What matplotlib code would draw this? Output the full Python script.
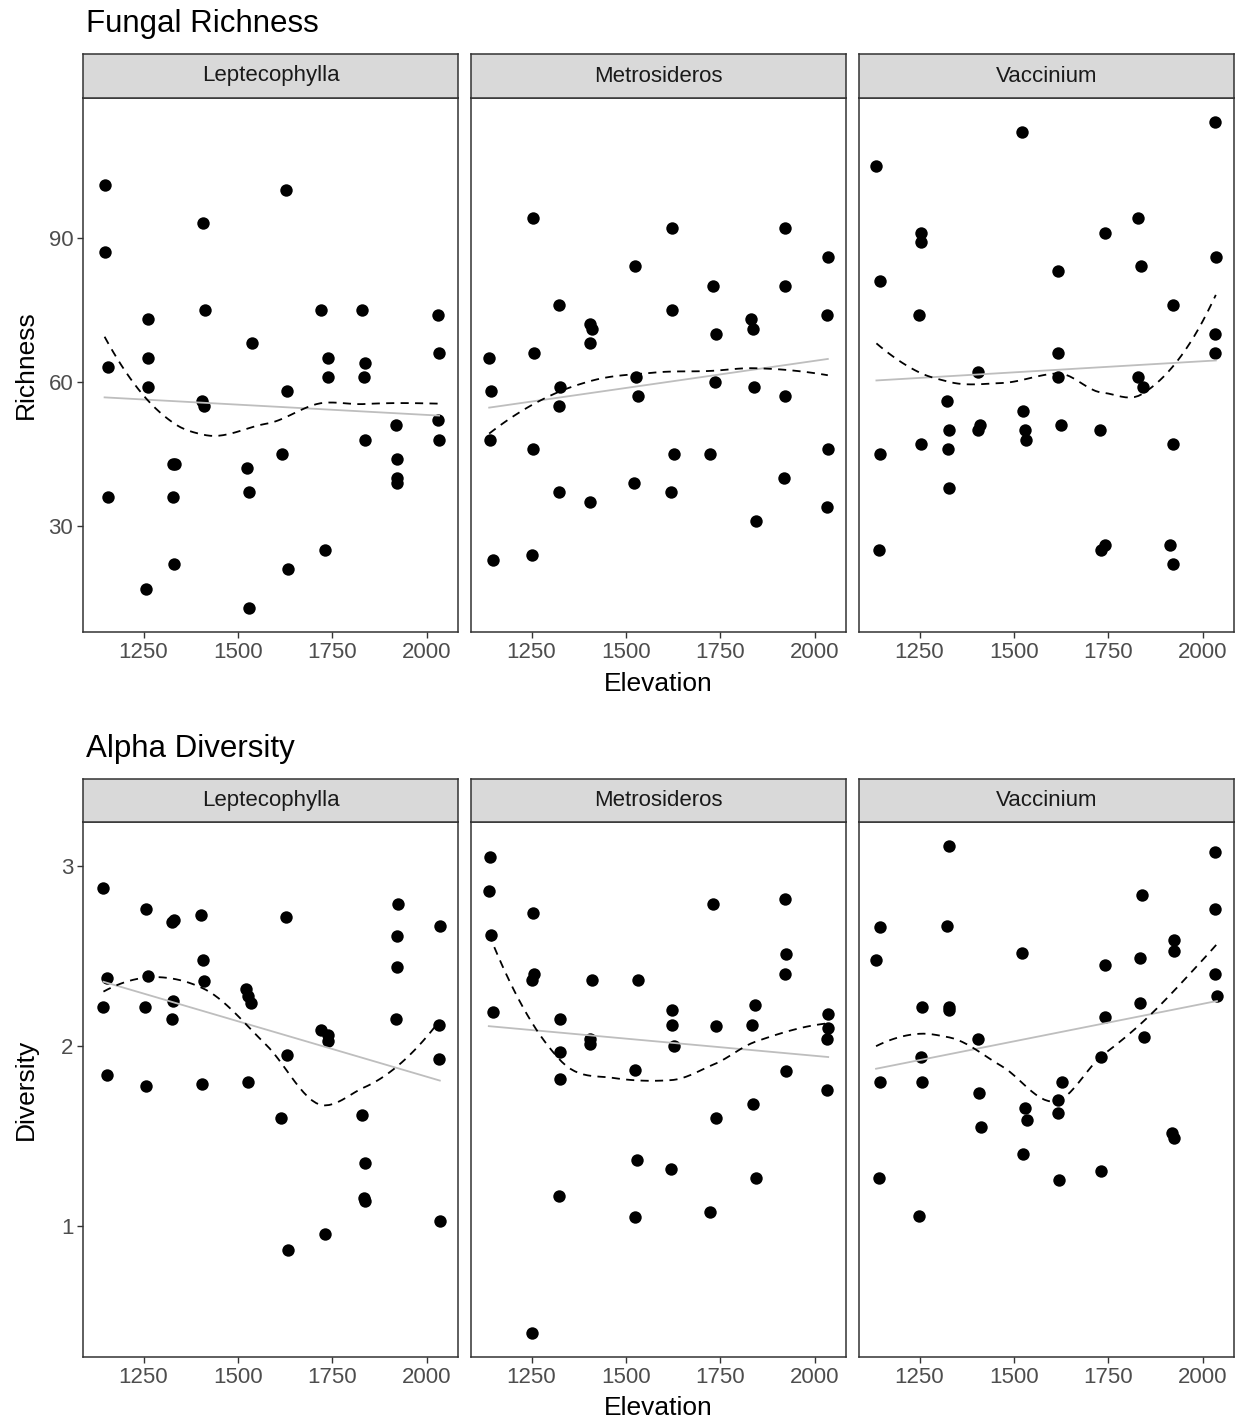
import numpy as np
import matplotlib.pyplot as plt

plt.rcParams['font.family'] = ['Liberation Sans', 'DejaVu Sans']

hosts = ['Leptecophylla', 'Metrosideros', 'Vaccinium']
x_ticks = [1250, 1500, 1750, 2000]

# ---- Fungal richness ----
lep_rich_elev = [1147, 1147, 1156, 1156, 1263, 1261, 1261, 1257, 1328, 1334, 1329, 1331,
                 1408, 1413, 1406, 1410, 1536, 1523, 1529, 1528, 1627, 1629, 1616, 1631,
                 1720, 1739, 1739, 1731, 1828, 1835, 1833, 1835, 1918, 1920, 1920, 1922,
                 2030, 2032, 2030, 2032]
lep_rich = [101, 87, 63, 36, 73, 65, 59, 17, 43, 43, 36, 22,
            93, 75, 56, 55, 68, 42, 37, 13, 100, 58, 45, 21,
            75, 65, 61, 25, 75, 64, 61, 48, 51, 44, 40, 39,
            74, 66, 52, 48]

met_rich_elev = [1138, 1144, 1141, 1148, 1254, 1256, 1254, 1252, 1323, 1325, 1323, 1323,
                 1404, 1409, 1406, 1404, 1525, 1527, 1532, 1522, 1621, 1622, 1626, 1619,
                 1730, 1738, 1736, 1723, 1832, 1835, 1840, 1843, 1922, 1922, 1922, 1919,
                 2034, 2032, 2034, 2032]
met_rich = [65, 58, 48, 23, 94, 66, 46, 24, 76, 59, 55, 37,
            72, 71, 68, 35, 84, 61, 57, 39, 92, 75, 45, 37,
            80, 70, 60, 45, 73, 71, 59, 31, 92, 80, 57, 40,
            86, 74, 46, 34]

vac_rich_elev = [1136, 1146, 1146, 1142, 1255, 1255, 1249, 1255, 1324, 1328, 1325, 1327,
                 1405, 1410, 1406, 1522, 1523, 1529, 1533, 1616, 1616, 1617, 1625,
                 1740, 1727, 1729, 1740, 1829, 1837, 1829, 1841, 1922, 1921, 1914, 1920,
                 2031, 2034, 2031, 2031]
vac_rich = [105, 81, 45, 25, 91, 89, 74, 47, 56, 50, 46, 38,
            62, 51, 50, 112, 54, 50, 48, 83, 66, 61, 51,
            91, 50, 25, 26, 94, 84, 61, 59, 76, 47, 26, 22,
            114, 86, 70, 66]

# ---- Alpha diversity ----
lep_div_elev = [1144, 1153, 1144, 1153, 1256, 1261, 1254, 1256, 1326, 1331, 1328, 1325,
                1401, 1407, 1411, 1405, 1522, 1526, 1535, 1527, 1626, 1629, 1614, 1631,
                1719, 1738, 1738, 1730, 1829, 1836, 1833, 1836, 1923, 1921, 1921, 1919,
                2034, 2032, 2032, 2034]
lep_div = [2.88, 2.38, 2.22, 1.84, 2.76, 2.39, 2.22, 1.78, 2.69, 2.70, 2.25, 2.15,
           2.73, 2.48, 2.36, 1.79, 2.32, 2.28, 2.24, 1.80, 2.72, 1.95, 1.60, 0.87,
           2.09, 2.06, 2.03, 0.96, 1.62, 1.35, 1.16, 1.14, 2.79, 2.61, 2.44, 2.15,
           2.67, 2.12, 1.93, 1.03]

met_div_elev = [1140, 1137, 1144, 1148, 1254, 1256, 1252, 1252, 1326, 1325, 1325, 1323,
                1409, 1405, 1405, 1532, 1524, 1528, 1523, 1623, 1623, 1627, 1619,
                1730, 1739, 1738, 1723, 1841, 1833, 1837, 1844, 1921, 1923, 1922, 1923,
                2035, 2035, 2033, 2033]
met_div = [3.05, 2.86, 2.62, 2.19, 2.74, 2.40, 2.37, 0.41, 2.15, 1.97, 1.82, 1.17,
           2.37, 2.04, 2.01, 2.37, 1.87, 1.37, 1.05, 2.20, 2.12, 2.00, 1.32,
           2.79, 2.11, 1.60, 1.08, 2.23, 2.12, 1.68, 1.27, 2.82, 2.51, 2.40, 1.86,
           2.18, 2.10, 2.04, 1.76]

vac_div_elev = [1145, 1135, 1145, 1142, 1256, 1255, 1256, 1248, 1327, 1323, 1327, 1327,
                1406, 1407, 1412, 1522, 1530, 1534, 1525, 1626, 1617, 1617, 1620,
                1741, 1741, 1729, 1731, 1838, 1833, 1833, 1844, 1923, 1923, 1917, 1923,
                2033, 2033, 2033, 2037]
vac_div = [2.66, 2.48, 1.80, 1.27, 2.22, 1.94, 1.80, 1.06, 3.11, 2.67, 2.22, 2.20,
           2.04, 1.74, 1.55, 2.52, 1.66, 1.59, 1.40, 1.80, 1.70, 1.63, 1.26,
           2.45, 2.16, 1.94, 1.31, 2.84, 2.49, 2.24, 2.05, 2.59, 2.53, 1.52, 1.49,
           3.08, 2.76, 2.40, 2.28]

rows = [
    dict(title='Fungal Richness', ylabel='Richness', yticks=[30, 60, 90],
         data=[(lep_rich_elev, lep_rich), (met_rich_elev, met_rich), (vac_rich_elev, vac_rich)]),
    dict(title='Alpha Diversity', ylabel='Diversity', yticks=[1, 2, 3],
         data=[(lep_div_elev, lep_div), (met_div_elev, met_div), (vac_div_elev, vac_div)]),
]


def local_fit(x, y, x0, q):
    # local quadratic, tricube weights -> value and slope at x0
    d = np.abs(x - x0)
    h = np.sort(d)[q - 1]
    w = np.clip(1 - (d / h) ** 3, 0, None) ** 3
    u = (x - x0) / h
    X = np.column_stack([np.ones(len(x)), u, u ** 2])
    sw = np.sqrt(w)
    beta = np.linalg.lstsq(X * sw[:, None], y * sw, rcond=None)[0]
    return beta[0], beta[1] / h


def loess(x, y, xs, span=0.75, cell=0.2):
    # R-style loess: fits at kd-tree vertices, cubic Hermite in between
    order = np.argsort(x)
    x = np.asarray(x, float)[order]
    y = np.asarray(y, float)[order]
    n = len(x)
    q = int(np.floor(n * span))
    fc = int(np.floor(n * span * cell))
    mu = 0.005 * (x[-1] - x[0])
    verts = [x[0] - mu, x[-1] + mu]

    def split(l, u):
        if u - l + 1 <= fc:
            return
        m = (l + u) // 2
        verts.append((x[m] + x[m + 1]) / 2)
        split(l, m)
        split(m + 1, u)

    split(0, n - 1)
    verts = np.unique(verts)
    vals, slopes = zip(*[local_fit(x, y, v, q) for v in verts])
    vals, slopes = np.array(vals), np.array(slopes)
    out = []
    for t in xs:
        i = min(np.searchsorted(verts, t, side='right') - 1, len(verts) - 2)
        h = verts[i + 1] - verts[i]
        s = (t - verts[i]) / h
        h00 = 2 * s ** 3 - 3 * s ** 2 + 1
        h10 = s ** 3 - 2 * s ** 2 + s
        h01 = -2 * s ** 3 + 3 * s ** 2
        h11 = s ** 3 - s ** 2
        out.append(h00 * vals[i] + h10 * h * slopes[i] + h01 * vals[i + 1] + h11 * h * slopes[i + 1])
    return np.array(out)


def expand(vals, f=0.05):
    lo, hi = min(vals), max(vals)
    pad = (hi - lo) * f
    return lo - pad, hi + pad


all_elev = [e for r in rows for ex, _ in r['data'] for e in ex]
xlim = expand(all_elev)

W, H = 1240, 1422
fig = plt.figure(figsize=(W / 100, H / 100), dpi=100)

panel_x = [83, 471, 859]
panel_w = 375
row_geom = [  # (strip_top, panel_top, panel_bottom, title_baseline, xlabel_y)
    (54, 98, 632, 32, 684),
    (779, 822, 1357, 757, 1408),
]
border = '#333333'

for r, (st, pt, pb, tb, xl) in zip(rows, row_geom):
    ylim = expand([v for _, ys in r['data'] for v in ys])
    for i, (host, (ex, ys)) in enumerate(zip(hosts, r['data'])):
        left = panel_x[i] / W
        ax = fig.add_axes([left, 1 - pb / H, panel_w / W, (pb - pt) / H])
        ax.scatter(ex, ys, s=80, color='black', linewidths=0, zorder=2)

        xs = np.linspace(min(ex), max(ex), 80)
        k, b = np.polyfit(ex, ys, 1)
        ax.plot(xs, k * xs + b, color='#BEBEBE', lw=1.3, zorder=3)
        ax.plot(xs, loess(ex, ys, xs), color='black', lw=1.3,
                dashes=(4.5, 3.5), zorder=4)

        ax.set_xlim(xlim)
        ax.set_ylim(ylim)
        ax.set_xticks(x_ticks)
        ax.tick_params(axis='x', length=4, width=1, color=border,
                       labelsize=16, labelcolor='#4D4D4D', pad=3)
        if i == 0:
            ax.set_yticks(r['yticks'])
            ax.tick_params(axis='y', length=4, width=1, color=border,
                           labelsize=16, labelcolor='#4D4D4D', pad=3)
        else:
            ax.set_yticks([])
        for sp in ax.spines.values():
            sp.set_color(border)
            sp.set_linewidth(1.1)

        # facet strip
        sax = fig.add_axes([left, 1 - pt / H, panel_w / W, (pt - st) / H])
        sax.set_facecolor('#D9D9D9')
        sax.set_xticks([])
        sax.set_yticks([])
        for sp in sax.spines.values():
            sp.set_color(border)
            sp.set_linewidth(1.1)
        sax.text(0.5, 0.5, host, ha='center', va='center', fontsize=16,
                 color='#1A1A1A', transform=sax.transAxes)

    fig.text(86 / W, 1 - tb / H, r['title'], fontsize=22.5, va='baseline', ha='left')
    fig.text(26 / W, 1 - (pt + pb) / 2 / H, r['ylabel'], fontsize=19,
             rotation=90, ha='center', va='center')
    fig.text((panel_x[1] + panel_w / 2) / W, 1 - xl / H, 'Elevation',
             fontsize=19, ha='center', va='center')

fig.savefig('out.png', dpi=100)
